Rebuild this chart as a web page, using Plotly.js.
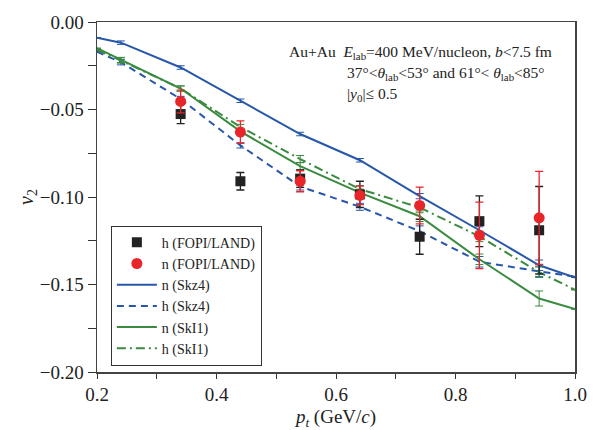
<!DOCTYPE html>
<html>
<head>
<meta charset="utf-8">
<script src="https://cdn.plot.ly/plotly-3.0.1.min.js"></script>
<style>html,body{margin:0;padding:0;background:#fff;}#chart{width:599px;height:430px;}</style>
</head>
<body>
<div id="chart"></div>
<script>
// Theory curves (pt in GeV/c)
const ptModel = [0.2, 0.24, 0.34, 0.44, 0.54, 0.64, 0.74, 0.84, 0.94, 1.0];
const nSkz4 = [-0.009, -0.0118, -0.026, -0.045, -0.064, -0.079, -0.0995, -0.119, -0.139, -0.146];
const nSkz4Err = [0, 0.001, 0.001, 0.001, 0.001, 0.001, 0.0015, 0.002, 0.003, 0];
const hSkz4 = [-0.017, -0.023, -0.044, -0.0705, -0.094, -0.1056, -0.1195, -0.137, -0.1425, -0.1455];
const hSkz4Err = [0, 0.0015, 0.0015, 0.0015, 0.002, 0.002, 0.003, 0.003, 0.003, 0];
const nSkI1 = [-0.015, -0.0217, -0.038, -0.0625, -0.0824, -0.0975, -0.111, -0.1356, -0.158, -0.164];
const nSkI1Err = [0, 0.0015, 0.0015, 0.0015, 0.002, 0.002, 0.003, 0.003, 0.0043, 0];
const hSkI1 = [-0.016, -0.022, -0.038, -0.060, -0.0783, -0.0955, -0.106, -0.1225, -0.143, -0.153];
const hSkI1Err = [0, 0.0015, 0.0015, 0.0015, 0.002, 0.002, 0.003, 0.003, 0.003, 0];

// Experimental data FOPI/LAND
const ptData = [0.34, 0.44, 0.54, 0.64, 0.74, 0.84, 0.94];
const hData = [-0.0526, -0.091, -0.0895, -0.0985, -0.1227, -0.1138, -0.119];
const hDataErr = [0.0055, 0.005, 0.005, 0.0075, 0.010, 0.0145, 0.025];
const nData = [-0.0454, -0.0629, -0.091, -0.0991, -0.1048, -0.1219, -0.1119];
const nDataErr = [0.0065, 0.0064, 0.006, 0.0053, 0.0105, 0.019, 0.0266];

const blue = '#2757a8';
const green = '#3a8a40';
const red = '#e8262a';
const black = '#222222';
const serif = 'Liberation Serif, Times New Roman, serif';

function model(name, y, err, color, dash, rank) {
  return {
    x: ptModel, y: y, name: name, type: 'scatter', mode: 'lines',
    line: {color: color, width: 2, dash: dash},
    error_y: {type: 'data', array: err, visible: true, color: color, thickness: 1, width: 4},
    legendrank: rank
  };
}

const traces = [
  model('n (Skz4)', nSkz4, nSkz4Err, blue, 'solid', 3),
  model('h (Skz4)', hSkz4, hSkz4Err, blue, '7px,5px', 4),
  model('n (SkI1)', nSkI1, nSkI1Err, green, 'solid', 5),
  model('h (SkI1)', hSkI1, hSkI1Err, green, '9px,4px,2px,4px', 6),
  {
    x: ptData, y: hData, name: 'h (FOPI/LAND)', type: 'scatter', mode: 'markers',
    marker: {symbol: 'square', size: 10, color: black},
    error_y: {type: 'data', array: hDataErr, visible: true, color: black, thickness: 1.3, width: 4},
    legendrank: 1
  },
  {
    x: ptData, y: nData, name: 'n (FOPI/LAND)', type: 'scatter', mode: 'markers',
    marker: {symbol: 'circle', size: 11, color: red},
    error_y: {type: 'data', array: nDataErr, visible: true, color: red, thickness: 1.3, width: 4},
    legendrank: 2
  }
];

const layout = {
  width: 599, height: 430,
  margin: {l: 97, r: 24, t: 22, b: 58},
  paper_bgcolor: '#fff', plot_bgcolor: '#fff',
  font: {family: serif, color: '#222', size: 18},
  showlegend: true,
  legend: {
    x: 0.029, y: 0.418, xanchor: 'left', yanchor: 'top',
    bgcolor: '#fff', bordercolor: '#333', borderwidth: 1,
    font: {family: serif, size: 14, color: '#222'},
    itemwidth: 40, tracegroupgap: 0,
    entrywidth: 146, entrywidthmode: 'pixels'
  },
  xaxis: {
    range: [0.2, 1.0], dtick: 0.2, tick0: 0.2, tickformat: '.1f',
    ticks: 'outside', ticklen: 5, tickcolor: '#333', tickwidth: 1,
    minor: {dtick: 0.1, ticks: 'outside', ticklen: 5, tickcolor: '#333', showgrid: false},
    showline: true, linecolor: '#444', linewidth: 1.5, mirror: true,
    showgrid: false, zeroline: false,
    tickfont: {family: serif, size: 19, color: '#222'},
    title: {text: '<i>p</i><sub><i>t</i></sub> (GeV/<i>c</i>)', font: {family: serif, size: 19, color: '#222'}, standoff: 6}
  },
  yaxis: {
    range: [-0.2, 0.0], dtick: 0.05, tickformat: '.2f',
    ticks: 'outside', ticklen: 8, tickcolor: '#333', tickwidth: 1,
    minor: {dtick: 0.025, ticks: 'outside', ticklen: 8, tickcolor: '#333', showgrid: false},
    showline: true, linecolor: '#444', linewidth: 1.5, mirror: true,
    showgrid: false, zeroline: false,
    tickfont: {family: serif, size: 19, color: '#222'},
    title: {text: '<i>v</i><sub>2</sub>', font: {family: serif, size: 20, color: '#222'}, standoff: 0}
  },
  annotations: [
    {xref: 'paper', yref: 'paper', x: 0.397, y: 0.914, xanchor: 'left', yanchor: 'middle', showarrow: false,
     text: 'Au+Au  <i>E</i><sub>lab</sub>=400 MeV/nucleon, <i>b</i>&lt;7.5 fm', font: {family: serif, size: 15.5, color: '#222'}},
    {xref: 'paper', yref: 'paper', x: 0.519, y: 0.854, xanchor: 'left', yanchor: 'middle', showarrow: false,
     text: '37°&lt;<i>θ</i><sub>lab</sub>&lt;53° and 61°&lt; <i>θ</i><sub>lab</sub>&lt;85°', font: {family: serif, size: 15.5, color: '#222'}},
    {xref: 'paper', yref: 'paper', x: 0.519, y: 0.794, xanchor: 'left', yanchor: 'middle', showarrow: false,
     text: '|<i>y</i><sub>0</sub>|≤ 0.5', font: {family: serif, size: 15.5, color: '#222'}}
  ]
};

Plotly.newPlot('chart', traces, layout, {displayModeBar: false, staticPlot: true});
</script>
</body>
</html>
